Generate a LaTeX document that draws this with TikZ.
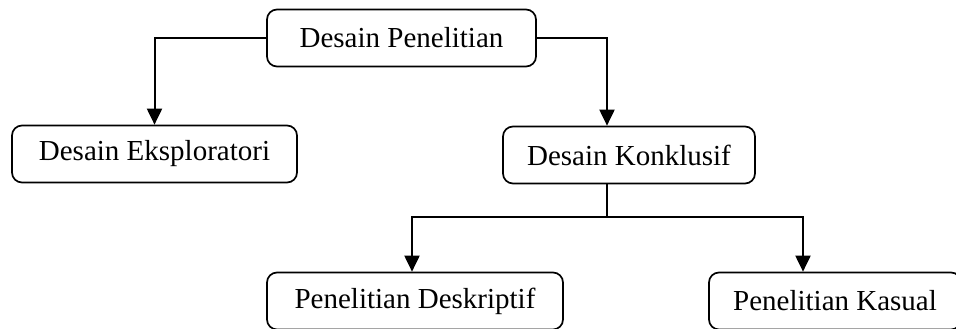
\documentclass[tikz,border=0pt]{standalone}
\usepackage{fontspec}
\setmainfont{Liberation Serif}
\usetikzlibrary{arrows.meta}
\begin{document}
\begin{tikzpicture}[x=1pt,y=-1pt,
  box/.style={draw, line width=1.7pt, rounded corners=10pt, inner sep=0pt,
    minimum height=57pt, font=\fontsize{29}{34}\selectfont},
  conn/.style={line width=2pt},
  arr/.style={conn, -{Triangle[width=15pt,length=16pt]}}]
\useasboundingbox (0,0) rectangle (956,329);
\clip (0,0) rectangle (956,329);
\node[box, minimum width=269pt] (top) at (401.5,38) {Desain Penelitian};
\node[box, minimum width=285pt] (eks) at (154.5,154) {Desain Eksploratori};
\node[box, minimum width=252pt] (kon) at (629,155) {Desain Konklusif};
\node[box, minimum width=296pt] (desk) at (415,301) {Penelitian Deskriptif};
\node[box, minimum width=252pt] (kas) at (835,301) {Penelitian Kasual};
\coordinate (ktop) at ([xshift=-22pt]kon.north);
\coordinate (kbot) at ([xshift=-22pt]kon.south);
\coordinate (dtip) at ([xshift=-3pt]desk.north);
\coordinate (stip) at ([xshift=-32pt]kas.north);
\draw[arr] (top.west) -| (eks.north);
\draw[arr] (top.east) -| (ktop);
\draw[conn] (kbot) -- ++(0,33) coordinate (j);
\draw[arr] (j) -| (dtip);
\draw[arr] (j) -| (stip);
\end{tikzpicture}
\end{document}
